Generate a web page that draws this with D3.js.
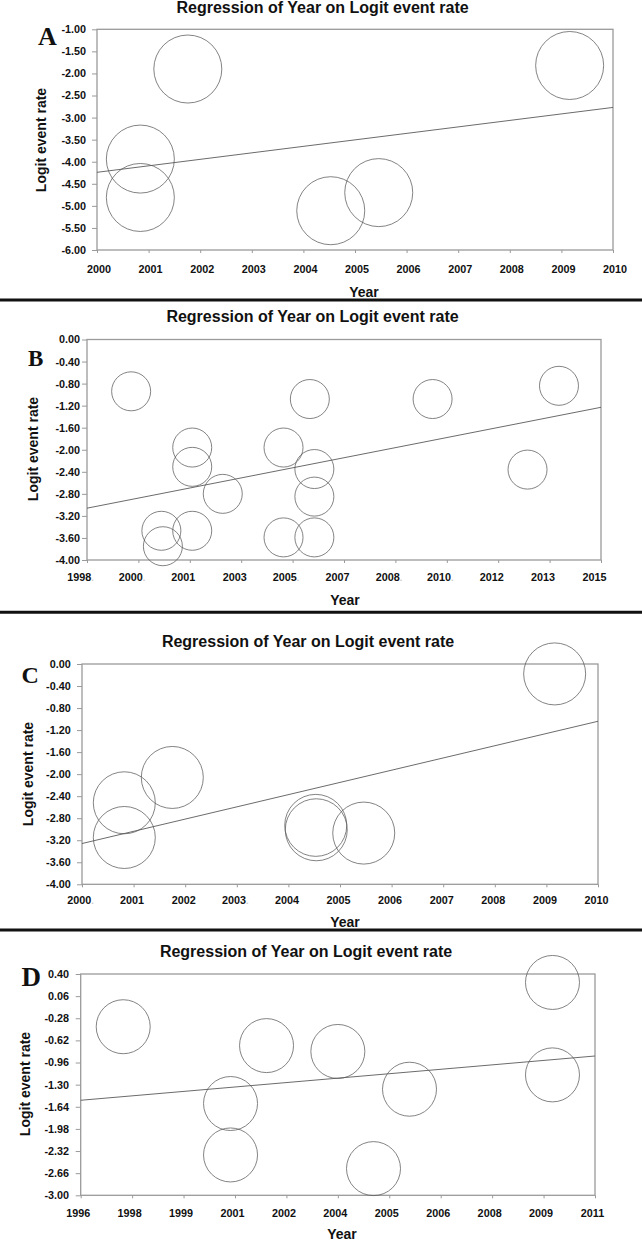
<!DOCTYPE html>
<html>
<head>
<meta charset="utf-8">
<script src="https://cdn.jsdelivr.net/npm/d3@7/dist/d3.min.js"></script>
<style>
  html, body { margin: 0; padding: 0; background: #fff; }
  svg { display: block; }
  text { font-family: "Liberation Sans", Arial, sans-serif; font-weight: bold; fill: #111; }
</style>
</head>
<body>
<svg id="chart" width="642" height="1241"></svg>
<script>
// ---------------- Panel A ----------------
const aYear  = [2001.76, 2009.16, 2000.84, 2000.84, 2004.53, 2005.46];
const aLogit = [-1.90, -1.82, -3.94, -4.81, -5.11, -4.70];
const aFit   = [-4.24, -2.77];            // regression line at x-domain ends
const aXDomain = [2000, 2010];
const aYDomain = [-6, -1];
const aXLabels = ["2000","2001","2002","2003","2004","2005","2006","2007","2008","2009","2010"];
const aYLabels = ["-1.00","-1.50","-2.00","-2.50","-3.00","-3.50","-4.00","-4.50","-5.00","-5.50","-6.00"];

// ---------------- Panel B ----------------
const bYear  = [1999.46, 2005.37, 2009.43, 2013.61, 2001.48, 2001.48, 2004.50, 2005.52,
                2012.57, 2002.49, 2005.52, 2000.46, 2001.48, 2000.51, 2004.50, 2005.52];
const bLogit = [-0.94, -1.08, -1.08, -0.84, -1.96, -2.31, -1.96, -2.35,
                -2.36, -2.80, -2.85, -3.47, -3.47, -3.75, -3.59, -3.59];
const bFit   = [-3.06, -1.23];
const bXDomain = [1998, 2015];
const bYDomain = [-4, 0];
const bXLabels = ["1998.","2000.","2001","2003","2005.","2007","2008.","2010.","2012","2013","2015"];
const bYLabels = ["0.00","-0.40","-0.80","-1.20","-1.60","-2.00","-2.40","-2.80","-3.20","-3.60","-4.00"];

// ---------------- Panel C ----------------
const cYear  = [2009.16, 2001.75, 2000.82, 2000.82, 2004.53, 2004.54, 2005.46];
const cLogit = [-0.18, -2.06, -2.52, -3.15, -2.93, -3.01, -3.07];
const cFit   = [-3.26, -1.04];
const cXDomain = [2000, 2010];
const cYDomain = [-4, 0];
const cXLabels = ["2000.","2001","2002","2003.","2004","2005","2006","2007","2008","2009","2010"];
const cYLabels = ["0.00","-0.40","-0.80","-1.20","-1.60","-2.00","-2.40","-2.80","-3.20","-3.60","-4.00"];

// ---------------- Panel D ----------------
const dYear  = [1997.24, 2001.42, 2003.50, 2009.76, 2009.76, 2000.37, 2000.37, 2005.59, 2004.54];
const dLogit = [-0.41, -0.70, -0.79, 0.27, -1.15, -1.59, -2.38, -1.37, -2.59];
const dFit   = [-1.54, -0.86];
const dXDomain = [1996, 2011];
const dYDomain = [-3, 0.4];
const dXLabels = ["1996","1998","1999","2001","2002","2004","2005","2006","2008","2009","2011"];
const dYLabels = ["0.40","0.06","-0.28","-0.62","-0.96","-1.30","-1.64","-1.98","-2.32","-2.66","-3.00"];

const titleText = "Regression of Year on Logit event rate";

// ---------------- Layout (positions / styles only) ----------------
const panels = [
  { letter: "A", years: aYear, logits: aLogit, fit: aFit, xDom: aXDomain, yDom: aYDomain, xLab: aXLabels, yLab: aYLabels,
    L: 97, R: 613, T: 29.3, B: 250, r: 34, yPad: 6, xPad: 12, xDx: 1.5,
    title: [322.6, 13], yTitle: [46, 140], xTitle: [364, 297], let: [38, 45, 26] },
  { letter: "B", years: bYear, logits: bLogit, fit: bFit, xDom: bXDomain, yDom: bYDomain, xLab: bXLabels, yLab: bYLabels,
    L: 87, R: 601, T: 339.5, B: 560, r: 19.5, yPad: 2, xPad: 10.7, xDx: -7,
    title: [312.5, 322], yTitle: [38, 449], xTitle: [345, 605], let: [28, 365.5, 23] },
  { letter: "C", years: cYear, logits: cLogit, fit: cFit, xDom: cXDomain, yDom: cYDomain, xLab: cXLabels, yLab: cYLabels,
    L: 82, R: 598, T: 664, B: 884.3, r: 31, yPad: 6.3, xPad: 9, xDx: -2,
    title: [308, 647], yTitle: [33, 774], xTitle: [345, 927], let: [21.5, 683.3, 24] },
  { letter: "D", years: dYear, logits: dLogit, fit: dFit, xDom: dXDomain, yDom: dYDomain, xLab: dXLabels, yLab: dYLabels,
    L: 80.7, R: 595, T: 974, B: 1195.3, r: 27, yPad: 6.7, xPad: 11, xDx: -3,
    title: [306, 957], yTitle: [30, 1084], xTitle: [342, 1239], let: [21.5, 986, 27] }
];
const separators = [300, 612.3, 930];

const svg = d3.select("#chart");
const frameColor = "#9a9a9a";
const markColor = "#5a5a5a";

separators.forEach(y => {
  svg.append("line").attr("x1", 0).attr("x2", 642).attr("y1", y).attr("y2", y)
    .attr("stroke", "#111").attr("stroke-width", 3);
});

panels.forEach(p => {
  const g = svg.append("g");
  const x = d3.scaleLinear().domain(p.xDom).range([p.L, p.R]);
  const y = d3.scaleLinear().domain(p.yDom).range([p.B, p.T]);
  const xTicks = d3.range(11).map(i => p.xDom[0] + i * (p.xDom[1] - p.xDom[0]) / 10);
  const yTicks = d3.range(11).map(i => p.yDom[1] - i * (p.yDom[1] - p.yDom[0]) / 10);

  // frame
  g.append("rect").attr("x", p.L).attr("y", p.T).attr("width", p.R - p.L).attr("height", p.B - p.T)
    .attr("fill", "none").attr("stroke", frameColor).attr("stroke-width", 1.3);

  // regression line
  g.append("line")
    .attr("x1", x(p.xDom[0])).attr("y1", y(p.fit[0]))
    .attr("x2", x(p.xDom[1])).attr("y2", y(p.fit[1]))
    .attr("stroke", markColor).attr("stroke-width", 0.9);

  // bubbles
  g.selectAll("circle.pt").data(p.years.map((yr, i) => [yr, p.logits[i]])).join("circle")
    .attr("class", "pt")
    .attr("cx", d => x(d[0])).attr("cy", d => y(d[1])).attr("r", p.r)
    .attr("fill", "none").attr("stroke", markColor).attr("stroke-width", 0.75);

  // y axis
  const ya = g.append("g").attr("transform", `translate(${p.L},0)`)
    .call(d3.axisLeft(y).tickValues(yTicks).tickFormat((d, i) => p.yLab[i]).tickSize(5).tickPadding(p.yPad));
  ya.select(".domain").remove();
  ya.selectAll("line").attr("stroke", frameColor);
  ya.selectAll("text").attr("font-size", 10.8).attr("fill", "#111")
    .attr("font-family", '"Liberation Sans", Arial, sans-serif').attr("font-weight", "bold");

  // x axis
  const xa = g.append("g").attr("transform", `translate(0,${p.B})`)
    .call(d3.axisBottom(x).tickValues(xTicks).tickFormat((d, i) => p.xLab[i]).tickSize(3).tickPadding(p.xPad));
  xa.select(".domain").remove();
  xa.selectAll("line").attr("stroke", frameColor);
  xa.selectAll("text").attr("font-size", 10.8).attr("fill", "#111").attr("dx", p.xDx)
    .attr("font-family", '"Liberation Sans", Arial, sans-serif').attr("font-weight", "bold")
    .each(function(d, i) {
      const lab = p.xLab[i];
      const t = d3.select(this);
      t.text(null);
      t.append("tspan").text(lab.replace(".", ""));
      if (lab.endsWith(".")) t.append("tspan").attr("fill", "#c8c8c8").attr("font-size", 9).text(".");
    });

  // title
  g.append("text").attr("x", p.title[0]).attr("y", p.title[1]).attr("text-anchor", "middle")
    .attr("font-size", 16).text(titleText);

  // axis titles
  g.append("text").attr("transform", `translate(${p.yTitle[0]},${p.yTitle[1]}) rotate(-90)`)
    .attr("text-anchor", "middle").attr("font-size", 14).text("Logit event rate");
  g.append("text").attr("x", p.xTitle[0]).attr("y", p.xTitle[1]).attr("text-anchor", "middle")
    .attr("font-size", 14).text("Year");

  // panel letter
  g.append("text").attr("x", p.let[0]).attr("y", p.let[1]).attr("font-size", p.let[2])
    .style("font-family", '"Liberation Serif", "Times New Roman", serif').text(p.letter);
});
</script>
</body>
</html>
